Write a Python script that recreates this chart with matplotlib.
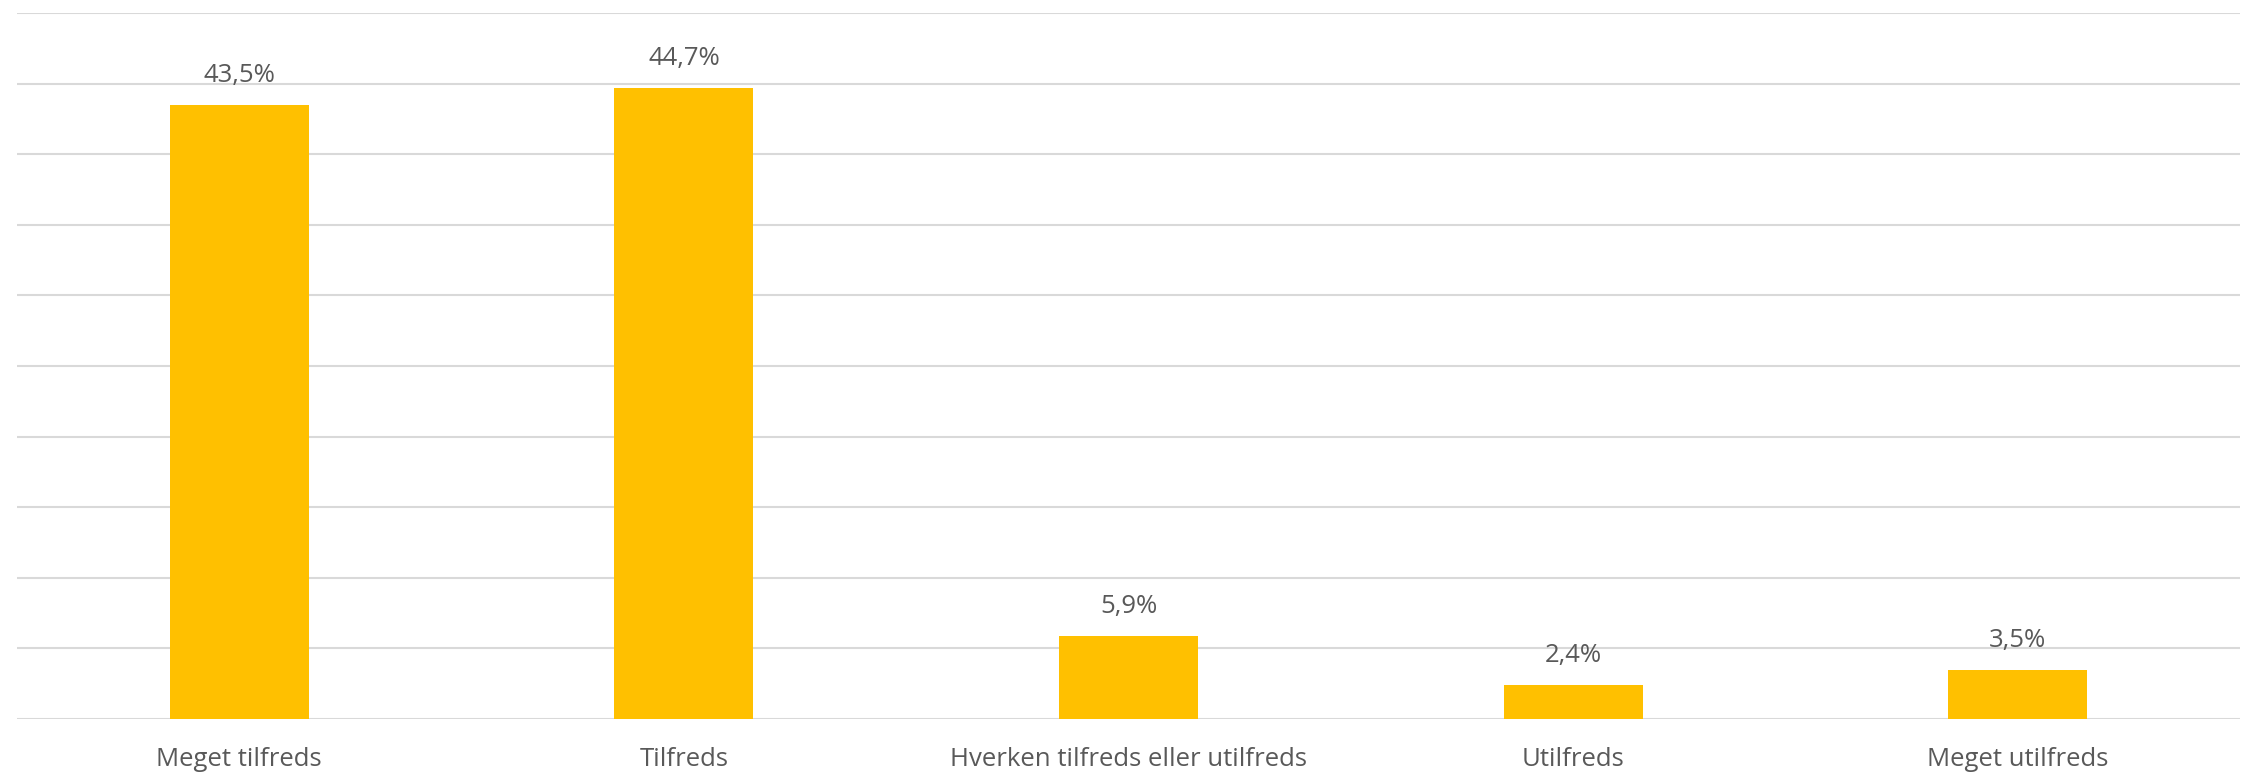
import matplotlib
matplotlib.use('Agg')
import matplotlib.pyplot as plt
import numpy as np

categories = ['Meget tilfreds', 'Tilfreds', 'Hverken tilfreds eller utilfreds',
              'Utilfreds', 'Meget utilfreds']
values = [43.5, 44.7, 5.9, 2.4, 3.5]
value_labels = ['43,5%', '44,7%', '5,9%', '2,4%', '3,5%']

BAR_COLOR = '#FFC000'
TEXT_COLOR = '#595959'
GRID_COLOR = '#D9D9D9'

plt.rcParams['font.family'] = ['Open Sans', 'DejaVu Sans']

fig = plt.figure(figsize=(22.47, 7.74), dpi=100)
ax = fig.add_axes([17 / 2247, 1 - 719 / 774, (2240 - 17) / 2247, (719 - 13) / 774])

x = np.arange(len(categories))
ax.bar(x, values, width=0.313, color=BAR_COLOR, zorder=3)

for xi, v, lbl in zip(x, values, value_labels):
    ax.annotate(lbl, (xi, v), xytext=(0, 12), textcoords='offset points',
                ha='center', va='bottom', fontsize=18.5, color=TEXT_COLOR)

ax.set_xlim(-0.5, len(categories) - 0.5)
ax.set_ylim(0, 50)
ax.set_yticks(np.arange(0, 51, 5))
ax.yaxis.grid(True, color=GRID_COLOR, linewidth=1.5, zorder=0)
ax.set_axisbelow(True)
ax.tick_params(axis='y', left=False, labelleft=False)
ax.tick_params(axis='x', bottom=False, labelsize=18.5, labelcolor=TEXT_COLOR, pad=17)
ax.set_xticks(x)
ax.set_xticklabels(categories)
for s in ax.spines.values():
    s.set_visible(False)

fig.savefig('out.png', dpi=100)
